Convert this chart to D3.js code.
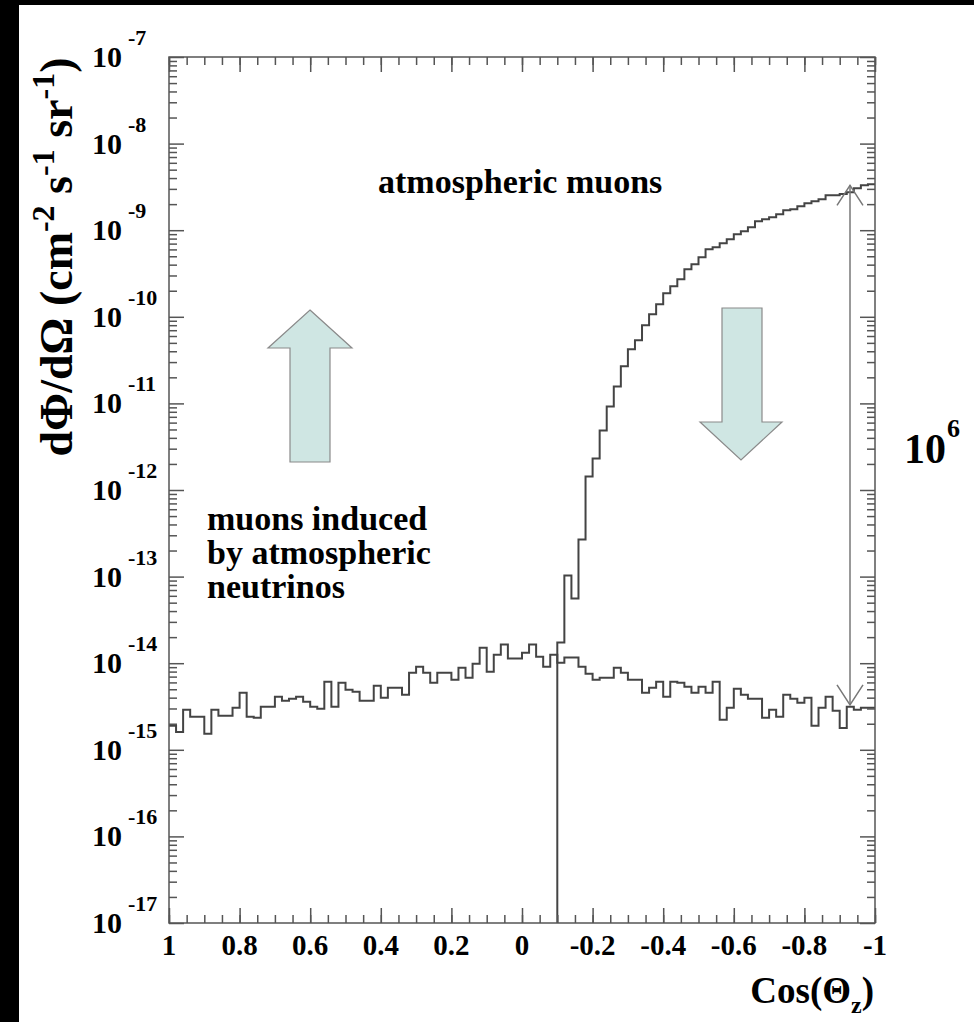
<!DOCTYPE html>
<html lang="en">
<head>
<meta charset="UTF-8">
<title>Muon flux vs zenith angle</title>
<script src="https://cdn.jsdelivr.net/npm/d3@7"></script>
<style>
body { margin: 0; background: #fff; }
svg { display: block; }
svg text { font-family: "Liberation Serif", "DejaVu Serif", serif; font-weight: bold; fill: #000; }
</style>
</head>
<body>
<svg id="chart"></svg>
<script>
// histogram binning: 100 bins from cos = 1 down to cos = -1
var binLow = 1, binHigh = -1, nBins = 100;

// muons induced by atmospheric neutrinos, one value per bin (cm^-2 s^-1 sr^-1)
var neutrinoFlux = [
  1.89e-15, 1.61e-15, 2.90e-15, 2.41e-15, 2.41e-15, 1.53e-15, 2.90e-15, 2.47e-15, 2.47e-15, 3.06e-15,
  4.56e-15, 2.41e-15, 2.34e-15, 3.14e-15, 3.14e-15, 4.10e-15, 3.68e-15, 3.89e-15, 4.10e-15, 3.59e-15,
  3.14e-15, 2.98e-15, 6.11e-15, 3.14e-15, 5.96e-15, 4.94e-15, 4.69e-15, 3.68e-15, 3.68e-15, 5.50e-15,
  3.99e-15, 5.21e-15, 5.21e-15, 4.33e-15, 7.76e-15, 9.12e-15, 7.76e-15, 5.96e-15, 7.76e-15, 7.76e-15,
  6.44e-15, 8.87e-15, 6.79e-15, 9.86e-15, 1.51e-14, 7.98e-15, 1.25e-14, 1.64e-14, 1.13e-14, 1.13e-14,
  1.32e-14, 1.64e-14, 1.19e-14, 9.12e-15, 1.25e-14, 1.01e-14, 1.16e-14, 1.16e-14, 9.12e-15, 7.57e-15,
  6.44e-15, 6.79e-15, 6.79e-15, 8.87e-15, 7.76e-15, 6.44e-15, 6.44e-15, 4.56e-15, 5.21e-15, 6.11e-15,
  4.10e-15, 6.11e-15, 5.96e-15, 5.35e-15, 4.56e-15, 5.35e-15, 4.56e-15, 6.11e-15, 2.22e-15, 3.06e-15,
  5.07e-15, 4.33e-15, 3.89e-15, 3.89e-15, 2.34e-15, 2.90e-15, 2.41e-15, 4.33e-15, 3.89e-15, 3.49e-15,
  3.99e-15, 1.89e-15, 3.06e-15, 4.10e-15, 2.82e-15, 1.79e-15, 3.14e-15, 2.90e-15, 3.06e-15, 3.06e-15
];

// atmospheric muons, only non-empty from cos = -0.1 on
var muonStart = -0.1;
var muonFlux = [
  1.73e-14, 1.03e-13, 5.57e-14, 2.68e-13, 1.43e-12, 2.31e-12, 4.88e-12, 9.23e-12, 1.57e-11, 2.68e-11,
  4.21e-11, 5.35e-11, 7.98e-11, 1.07e-10, 1.40e-10, 1.87e-10, 2.25e-10, 2.72e-10, 3.54e-10, 4.05e-10,
  4.88e-10, 6.03e-10, 6.35e-10, 7.08e-10, 7.87e-10, 8.99e-10, 9.73e-10, 1.08e-9, 1.27e-9, 1.34e-9,
  1.41e-9, 1.53e-9, 1.70e-9, 1.75e-9, 1.89e-9, 2.05e-9, 2.16e-9, 2.28e-9, 2.54e-9, 2.54e-9,
  2.61e-9, 2.75e-9, 3.06e-9, 3.31e-9, 3.40e-9
];

var xTicks = [1, 0.8, 0.6, 0.4, 0.2, 0, -0.2, -0.4, -0.6, -0.8, -1];
var xTickLabels = ["1", "0.8", "0.6", "0.4", "0.2", "0", "-0.2", "-0.4", "-0.6", "-0.8", "-1"];
var yDecades = [-17, -16, -15, -14, -13, -12, -11, -10, -9, -8, -7];

// the 10^6 double arrow spans from the muon plateau to the neutrino level
var ratioArrow = [3.3e-9, 3.3e-15];

var width = 974, height = 1022;
var frame = { left: 169, right: 875, top: 57, bottom: 923 };

var svg = d3.select("#chart").attr("width", width).attr("height", height);
svg.append("rect").attr("width", width).attr("height", height).attr("fill", "#fff");
// black border strips from the original scan
svg.append("rect").attr("x", 0).attr("y", 0).attr("width", 19).attr("height", height).attr("fill", "#000");
svg.append("rect").attr("x", 0).attr("y", 0).attr("width", width).attr("height", 5).attr("fill", "#000");

var x = d3.scaleLinear().domain([binLow, binHigh]).range([frame.left, frame.right]);
var y = d3.scaleLog().domain([1e-17, 1e-7]).range([frame.bottom, frame.top]);
var binW = (binLow - binHigh) / nBins;

svg.append("clipPath").attr("id", "clip")
  .append("rect")
  .attr("x", frame.left).attr("y", frame.top)
  .attr("width", frame.right - frame.left).attr("height", frame.bottom - frame.top);

// block arrows (up-going / down-going)
var upArrow = [[310, 310], [352, 348], [330, 348], [330, 462], [290, 462], [290, 348], [268, 348]];
var downArrow = [[722, 308], [762, 308], [762, 422], [782, 422], [741, 460], [700, 422], [722, 422]];
svg.selectAll(".blockArrow")
  .data([upArrow, downArrow])
  .enter()
  .append("polygon")
  .attr("class", "blockArrow")
  .attr("points", function(d) { return d.map(function(p) { return p.join(","); }).join(" "); })
  .attr("fill", "#cfe6e3")
  .attr("stroke", "#8a8a8a")
  .attr("stroke-width", 1.2);

// histograms
var step = d3.line()
  .x(function(d) { return x(d[0]); })
  .y(function(d) { return y(d[1]); })
  .curve(d3.curveStepAfter);

var nuPts = neutrinoFlux.map(function(v, i) { return [binLow - i * binW, v]; });
nuPts.push([binHigh, neutrinoFlux[neutrinoFlux.length - 1]]);

var muPts = [[muonStart, 1e-17]];
muonFlux.forEach(function(v, i) { muPts.push([muonStart - i * binW, v]); });
muPts.push([binHigh, muonFlux[muonFlux.length - 1]]);

var plot = svg.append("g").attr("clip-path", "url(#clip)");
plot.selectAll("path")
  .data([nuPts, muPts])
  .enter()
  .append("path")
  .attr("d", step)
  .attr("fill", "none")
  .attr("stroke", "#444")
  .attr("stroke-width", 2);

// axes, ROOT style ticks on all four sides
var xMinor = d3.range(-20, 21).map(function(i) { return i * 0.05; });
var yMinor = [];
yDecades.slice(0, -1).forEach(function(e) {
  for (var k = 2; k <= 9; k++) yMinor.push(k * Math.pow(10, e));
});
var yMajor = yDecades.map(function(e) { return Math.pow(10, e); });

function styleAxis(g) {
  g.selectAll("path").remove();
  g.selectAll("line").attr("stroke", "#555").attr("stroke-width", 1.5);
}
var axes = [
  [d3.axisBottom(x).tickValues(xTicks).tickSize(-15), "translate(0," + frame.bottom + ")"],
  [d3.axisBottom(x).tickValues(xMinor).tickSize(-8), "translate(0," + frame.bottom + ")"],
  [d3.axisTop(x).tickValues(xTicks).tickSize(-15), "translate(0," + frame.top + ")"],
  [d3.axisTop(x).tickValues(xMinor).tickSize(-8), "translate(0," + frame.top + ")"],
  [d3.axisLeft(y).tickValues(yMajor).tickSize(-15), "translate(" + frame.left + ",0)"],
  [d3.axisLeft(y).tickValues(yMinor).tickSize(-8), "translate(" + frame.left + ",0)"],
  [d3.axisRight(y).tickValues(yMajor).tickSize(-15), "translate(" + frame.right + ",0)"],
  [d3.axisRight(y).tickValues(yMinor).tickSize(-8), "translate(" + frame.right + ",0)"]
];
axes.forEach(function(a) {
  svg.append("g").attr("transform", a[1])
    .call(a[0].tickFormat(""))
    .call(styleAxis);
});

svg.append("rect")
  .attr("x", frame.left).attr("y", frame.top)
  .attr("width", frame.right - frame.left).attr("height", frame.bottom - frame.top)
  .attr("fill", "none").attr("stroke", "#555").attr("stroke-width", 1.5);

// tick labels
svg.selectAll(".xlab")
  .data(xTicks)
  .enter()
  .append("text")
  .attr("class", "xlab")
  .attr("x", function(d) { return x(d); })
  .attr("y", 955)
  .attr("text-anchor", "middle")
  .attr("font-size", 29)
  .text(function(d, i) { return xTickLabels[i]; });

var ylab = svg.selectAll(".ylab")
  .data(yDecades)
  .enter()
  .append("g")
  .attr("class", "ylab")
  .attr("transform", function(d) { return "translate(0," + y(Math.pow(10, d)) + ")"; });
ylab.append("text")
  .attr("x", 122).attr("y", 10)
  .attr("text-anchor", "end")
  .attr("font-size", 30)
  .text("10");
ylab.append("text")
  .attr("x", 128).attr("y", -12)
  .attr("font-size", 22)
  .text(function(d) { return String(d); });

// axis titles
var ytitle = svg.append("text")
  .attr("transform", "translate(72,257) rotate(-90)")
  .attr("text-anchor", "middle")
  .attr("font-size", 46);
ytitle.append("tspan").text("d\u03A6/d\u03A9 (cm");
ytitle.append("tspan").attr("dy", -18).attr("font-size", 32).text("-2");
ytitle.append("tspan").attr("dy", 18).text(" s");
ytitle.append("tspan").attr("dy", -18).attr("font-size", 32).text("-1");
ytitle.append("tspan").attr("dy", 18).text(" sr");
ytitle.append("tspan").attr("dy", -18).attr("font-size", 32).text("-1");
ytitle.append("tspan").attr("dy", 18).text(")");

var xtitle = svg.append("text")
  .attr("x", 874).attr("y", 1003)
  .attr("text-anchor", "end")
  .attr("font-size", 37);
xtitle.append("tspan").text("Cos(\u0398");
xtitle.append("tspan").attr("dy", 10).attr("font-size", 24).text("z");
xtitle.append("tspan").attr("dy", -10).text(")");

// annotations
svg.append("text").attr("x", 378).attr("y", 193).attr("font-size", 34).text("atmospheric muons");
var nuLabel = ["muons induced", "by atmospheric", "neutrinos"];
svg.selectAll(".nulab")
  .data(nuLabel)
  .enter()
  .append("text")
  .attr("class", "nulab")
  .attr("x", 207)
  .attr("y", function(d, i) { return 530 + i * 34; })
  .attr("font-size", 34)
  .text(function(d) { return d; });

// 10^6 double arrow
var ax = 850, aTop = y(ratioArrow[0]), aBot = y(ratioArrow[1]);
var arrow = svg.append("g").attr("stroke", "#777").attr("stroke-width", 1.5).attr("fill", "none");
arrow.append("line").attr("x1", ax).attr("x2", ax).attr("y1", aTop).attr("y2", aBot);
arrow.append("polyline").attr("points", [[ax - 13, aTop + 20], [ax, aTop], [ax + 13, aTop + 20]].join(" "));
arrow.append("polyline").attr("points", [[ax - 13, aBot - 20], [ax, aBot], [ax + 13, aBot - 20]].join(" "));

svg.append("text").attr("x", 904).attr("y", 463).attr("font-size", 42).text("10");
svg.append("text").attr("x", 947).attr("y", 437).attr("font-size", 26).text("6");
</script>
</body>
</html>
